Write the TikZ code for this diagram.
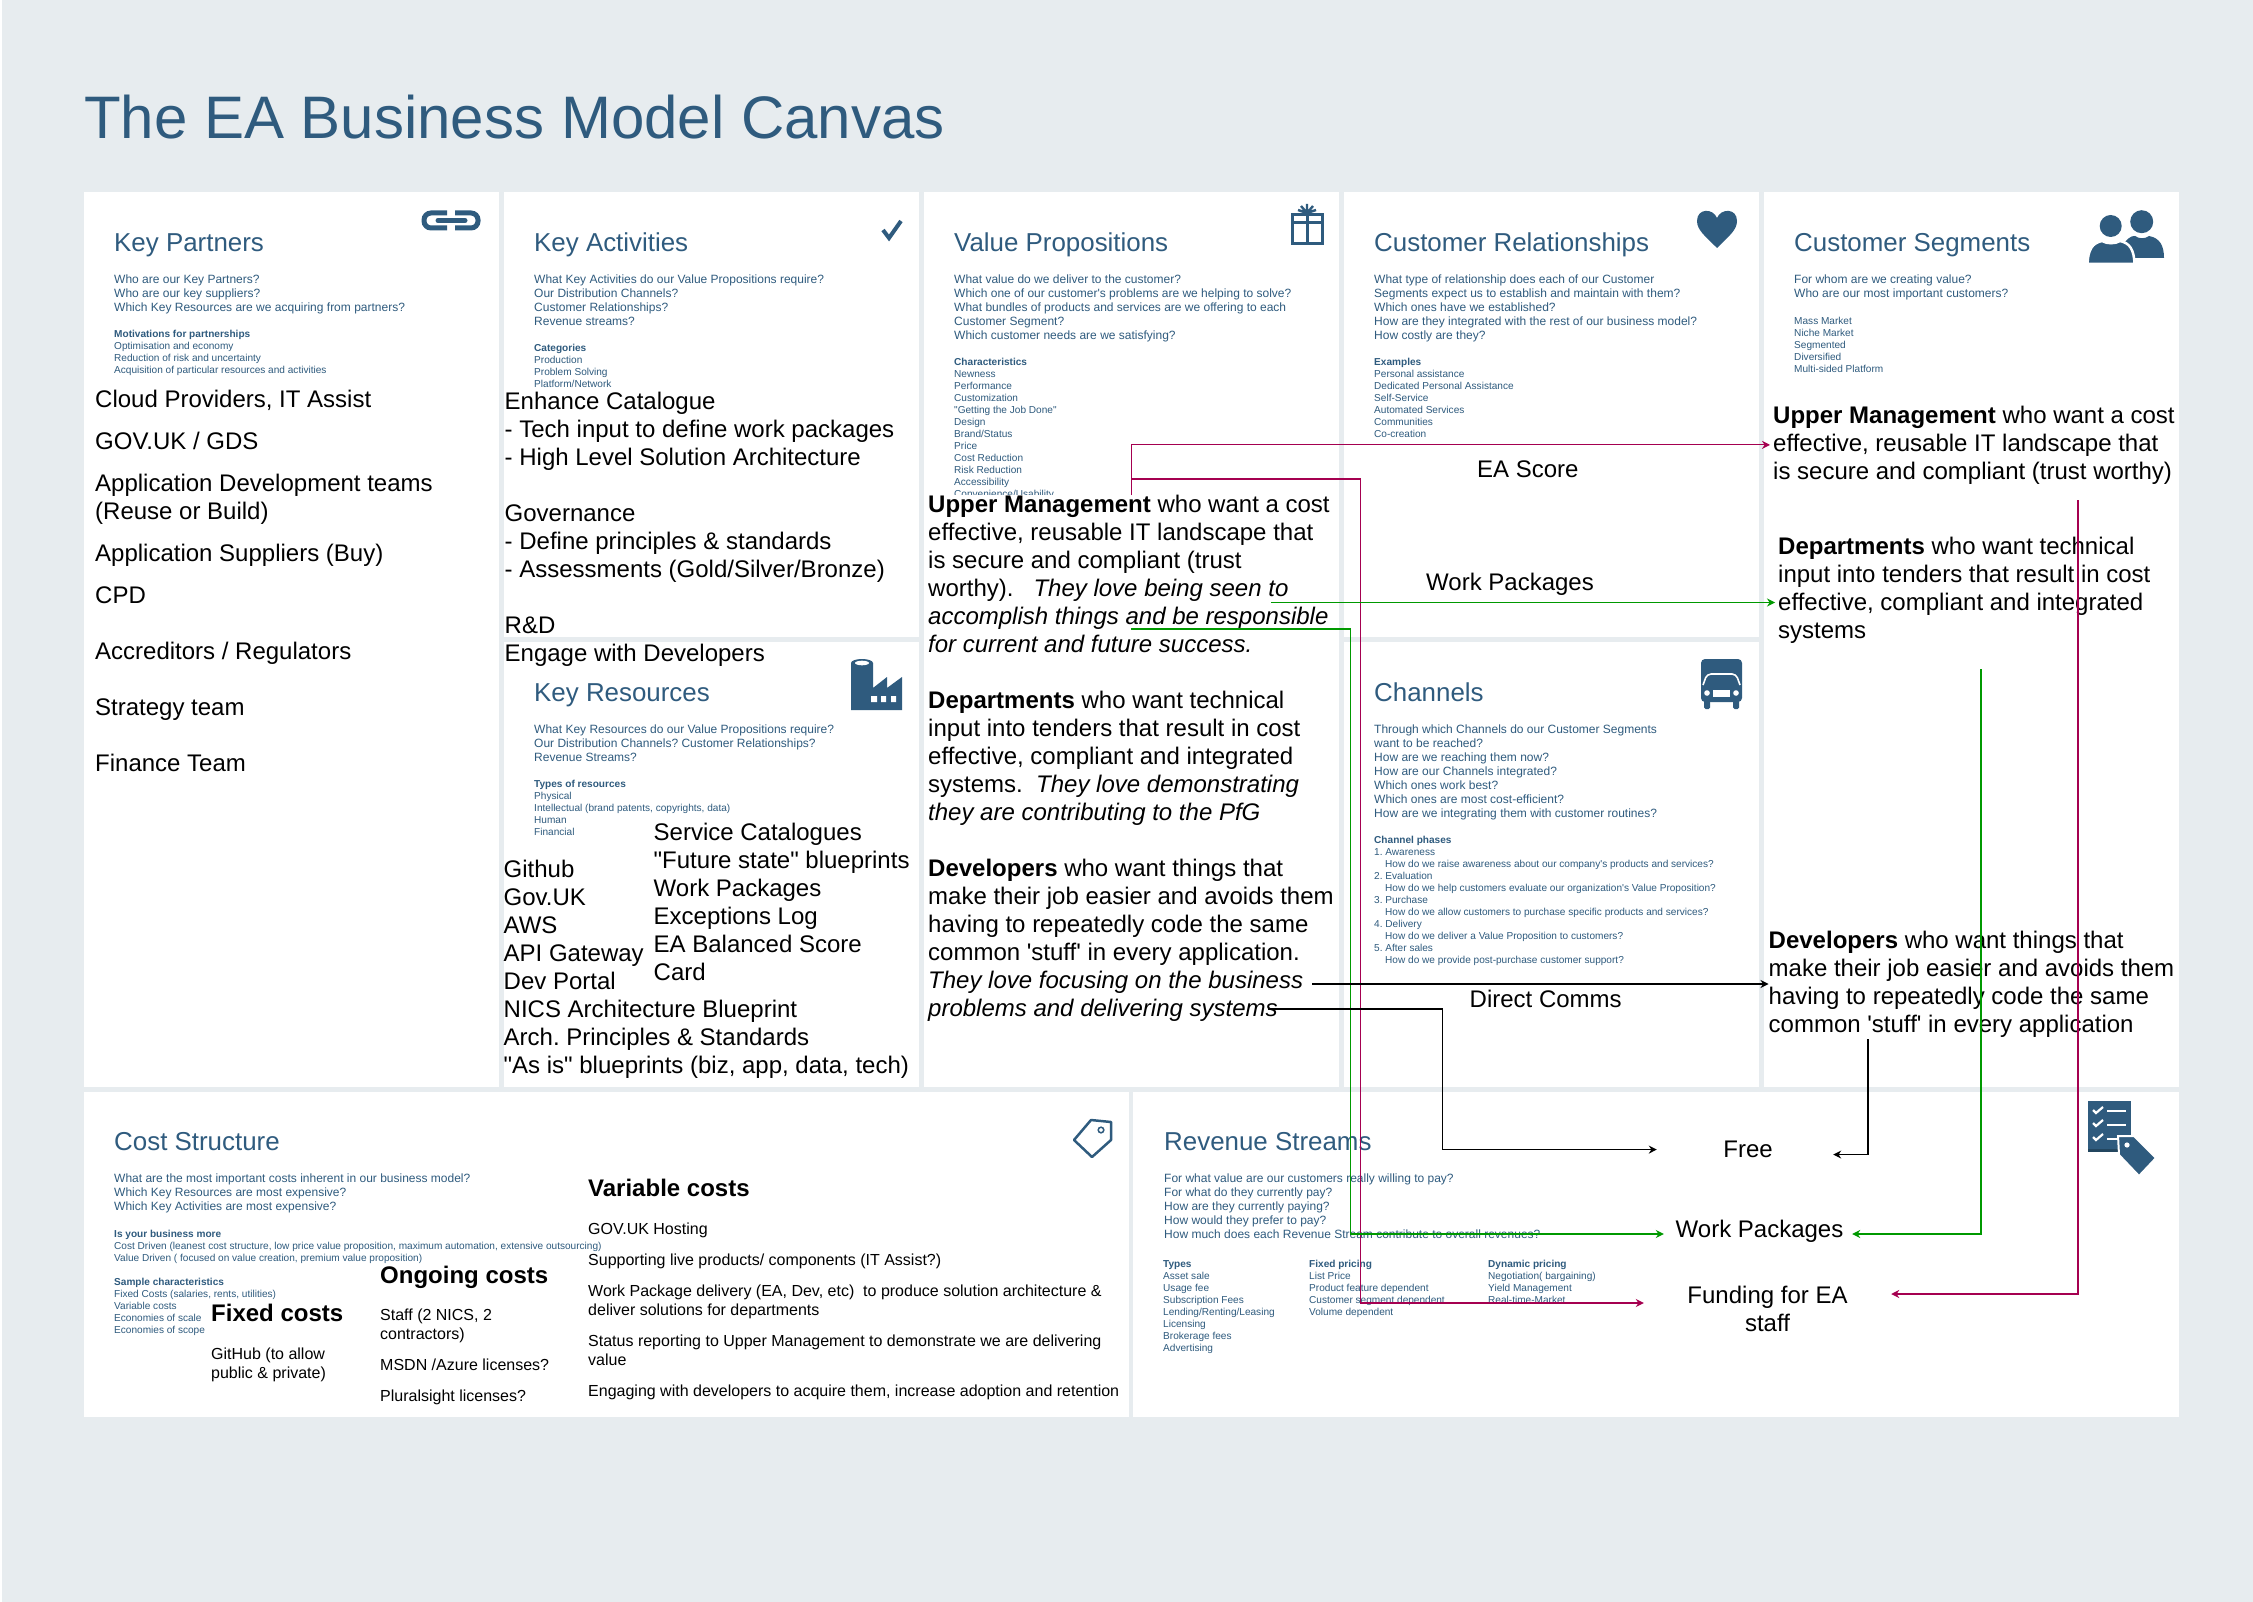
\documentclass[tikz,border=0pt]{standalone}
\usepackage{fontspec}
\usepackage{xcolor}
\usepackage{tikz}
\usetikzlibrary{arrows.meta,positioning}
\newfontfamily\canvasfont{Liberation Sans}
\AtBeginDocument{\canvasfont\frenchspacing}
\definecolor{canvasbg}{HTML}{E7ECEF}
\definecolor{slate}{HTML}{2F5B7E}
\definecolor{slatedark}{HTML}{23465F}
\definecolor{crimson}{HTML}{A50050}
\definecolor{leaf}{HTML}{009900}
\tikzset{
  panel/.style={fill=white,inner sep=0pt,anchor=north west},
  headtext/.style={text=slate,inner sep=0pt,anchor=base west,text height=19pt,text depth=6pt,
    font=\fontsize{25.9}{31}\selectfont},
  asktext/.style={text=slate,inner sep=0pt,anchor=north west,align=left,
    font=\fontsize{12}{14}\selectfont},
  listtext/.style={text=slate,inner sep=0pt,anchor=north west,align=left,
    font=\fontsize{10.08}{12}\selectfont},
  bodytext/.style={inner sep=0pt,anchor=north west,align=left,
    font=\fontsize{24}{28}\selectfont},
  labeltext/.style={inner sep=0pt,anchor=base,align=center,
    font=\fontsize{24}{28}\selectfont},
  costhead/.style={inner sep=0pt,anchor=base west,font=\bfseries\fontsize{24}{28}\selectfont},
  costtext/.style={inner sep=0pt,anchor=north west,align=left,
    font=\fontsize{16}{19}\selectfont},
  arrowred/.style={-{Stealth[length=8pt,width=8pt]},draw=crimson,line width=1.2pt},
  arrowgreen/.style={-{Stealth[length=8pt,width=8pt]},draw=leaf,line width=1.2pt},
  arrowblack/.style={-{Stealth[length=8pt,width=8pt]},draw=black,line width=1.2pt},
}

\begin{document}
\begin{tikzpicture}[x=1pt,y=-1pt]
  \useasboundingbox (0,0) rectangle (2253,1602);
  \fill[canvasbg] (2,0) rectangle (2253,1602);
  \node[inner sep=0pt,anchor=base west,text=slate,font=\fontsize{60}{70}\selectfont] (title) at (84,139) {The EA Business Model Canvas};

  % panels
  \node[panel,minimum width=415pt,minimum height=895pt] (kpPanel) at (84,192) {};
  \node[panel,minimum width=415pt,minimum height=445pt] (kaPanel) at (504,192) {};
  \node[panel,minimum width=415pt,minimum height=445pt] (krPanel) at (504,642) {};
  \node[panel,minimum width=415pt,minimum height=895pt] (vpPanel) at (924,192) {};
  \node[panel,minimum width=415pt,minimum height=445pt] (crPanel) at (1344,192) {};
  \node[panel,minimum width=415pt,minimum height=445pt] (chPanel) at (1344,642) {};
  \node[panel,minimum width=415pt,minimum height=895pt] (csPanel) at (1764,192) {};
  \node[panel,minimum width=1045pt,minimum height=325pt] (costPanel) at (84,1092) {};
  \node[panel,minimum width=1046pt,minimum height=325pt] (revPanel) at (1133,1092) {};

  % key partners
  \node[headtext] (kpHead) at (114,251.5) {Key Partners};
  \node[below=17pt of kpHead.south west,asktext] (kpAsk) {Who are our Key Partners?\\Who are our key suppliers?\\Which Key Resources are we acquiring from partners?};
  \node[below=72.5pt of kpHead.south west,listtext] (kpList) {\textbf{Motivations for partnerships}\\Optimisation and economy\\Reduction of risk and uncertainty\\Acquisition of particular resources and activities};
  \node[bodytext] (kpBody) at (95,390.3) {Cloud Providers, IT Assist\\[14pt]GOV.UK / GDS\\[14pt]Application Development teams\\(Reuse or Build)\\[14pt]Application Suppliers (Buy)\\[14pt]CPD\\[28pt]Accreditors / Regulators\\[28pt]Strategy team\\[28pt]Finance Team};

  % key activities
  \node[headtext] (kaHead) at (534,251.5) {Key Activities};
  \node[below=17pt of kaHead.south west,asktext] (kaAsk) {What Key Activities do our Value Propositions require?\\Our Distribution Channels?\\Customer Relationships?\\Revenue streams?};
  \node[below=86.5pt of kaHead.south west,listtext] (kaList) {\textbf{Categories}\\Production\\Problem Solving\\Platform/Network};

  % key resources
  \node[headtext] (krHead) at (534,701.5) {Key Resources};
  \node[below=17pt of krHead.south west,asktext] (krAsk) {What Key Resources do our Value Propositions require?\\Our Distribution Channels? Customer Relationships?\\Revenue Streams?};
  \node[below=72.5pt of krHead.south west,listtext] (krList) {\textbf{Types of resources}\\Physical\\Intellectual (brand patents, copyrights, data)\\Human\\Financial};
  \node[bodytext] (kaBody) at (504.5,392) {Enhance Catalogue\\- Tech input to define work packages\\- High Level Solution Architecture\\[28pt]Governance\\- Define principles \& standards\\- Assessments (Gold/Silver/Bronze)\\[28pt]R\&D\\Engage with Developers};
  \node[bodytext] (krLeft) at (503.5,860) {Github\\Gov.UK\\AWS\\API Gateway\\Dev Portal\\NICS Architecture Blueprint\\Arch. Principles \& Standards\\"As is" blueprints (biz, app, data, tech)};
  \node[bodytext] (krRight) at (653.5,822.8) {Service Catalogues\\"Future state" blueprints\\Work Packages\\Exceptions Log\\EA Balanced Score\\Card};

  % value propositions
  \node[headtext] (vpHead) at (954,251.5) {Value Propositions};
  \node[below=17pt of vpHead.south west,asktext] (vpAsk) {What value do we deliver to the customer?\\Which one of our customer's problems are we helping to solve?\\What bundles of products and services are we offering to each\\Customer Segment?\\Which customer needs are we satisfying?};
  \node[below=100.5pt of vpHead.south west,listtext] (vpList) {\textbf{Characteristics}\\Newness\\Performance\\Customization\\"Getting the Job Done"\\Design\\Brand/Status\\Price\\Cost Reduction\\Risk Reduction\\Accessibility\\Convenience/Usability};
  \node[bodytext,fill=white,text width=407pt] (vpUpper) at (928,495) {\spaceskip=0pt\relax\textbf{Upper Management} who want a cost\\effective, reusable IT landscape that\\is secure and compliant (trust\\worthy).\ \ \ \textit{They love being seen to}\\\textit{accomplish things and be responsible}\\\textit{for current and future success.}};
  \node[bodytext] (vpDept) at (928,690.5) {\textbf{Departments} who want technical\\input into tenders that result in cost\\effective, compliant and integrated\\systems.\ \ \textit{They love demonstrating}\\\textit{they are contributing to the PfG}};
  \node[bodytext] (vpDev) at (928,859) {\textbf{Developers} who want things that\\make their job easier and avoids them\\having to repeatedly code the same\\common 'stuff' in every application.\\\textit{They love focusing on the business}\\\textit{problems and delivering systems}};

  % customer relationships
  \node[headtext] (crHead) at (1374,251.5) {Customer Relationships};
  \node[below=17pt of crHead.south west,asktext] (crAsk) {What type of relationship does each of our Customer\\Segments expect us to establish and maintain with them?\\Which ones have we established?\\How are they integrated with the rest of our business model?\\How costly are they?};
  \node[below=100.5pt of crHead.south west,listtext] (crList) {\textbf{Examples}\\Personal assistance\\Dedicated Personal Assistance\\Self-Service\\Automated Services\\Communities\\Co-creation};
  \node[labeltext,anchor=base west] (crScore) at (1477,477.5) {EA Score};
  \node[labeltext,anchor=base west] (crWork) at (1426,590.5) {Work Packages};

  % channels
  \node[headtext] (chHead) at (1374,701.5) {Channels};
  \node[below=17pt of chHead.south west,asktext] (chAsk) {Through which Channels do our Customer Segments\\want to be reached?\\How are we reaching them now?\\How are our Channels integrated?\\Which ones work best?\\Which ones are most cost-efficient?\\How are we integrating them with customer routines?};
  \node[below=128.5pt of chHead.south west,listtext] (chList) {\textbf{Channel phases}\\1. Awareness\\\hspace*{11pt}How do we raise awareness about our company's products and services?\\2. Evaluation\\\hspace*{11pt}How do we help customers evaluate our organization's Value Proposition?\\3. Purchase\\\hspace*{11pt}How do we allow customers to purchase specific products and services?\\4. Delivery\\\hspace*{11pt}How do we deliver a Value Proposition to customers?\\5. After sales\\\hspace*{11pt}How do we provide post-purchase customer support?};
  \node[labeltext,anchor=base west] (chComms) at (1469.5,1007) {Direct Comms};

  % customer segments
  \node[headtext] (csHead) at (1794,251.5) {Customer Segments};
  \node[below=17pt of csHead.south west,asktext] (csAsk) {For whom are we creating value?\\Who are our most important customers?};
  \node[below=59.5pt of csHead.south west,listtext] (csList) {Mass Market\\Niche Market\\Segmented\\Diversified\\Multi-sided Platform};
  \node[bodytext,inner xsep=3pt] (csUpper) at (1770,405.5) {\textbf{Upper Management} who want a cost\\effective, reusable IT landscape that\\is secure and compliant (trust worthy)};
  \node[bodytext,inner xsep=3pt] (csDept) at (1775,537) {\textbf{Departments} who want technical\\input into tenders that result in cost\\effective, compliant and integrated\\systems};
  \node[bodytext] (csDev) at (1768.5,931) {\textbf{Developers} who want things that\\make their job easier and avoids them\\having to repeatedly code the same\\common 'stuff' in every application};

  % cost structure
  \node[headtext] (costHead) at (114,1150.5) {Cost Structure};
  \node[below=17pt of costHead.south west,asktext] (costAsk) {What are the most important costs inherent in our business model?\\Which Key Resources are most expensive?\\Which Key Activities are most expensive?};
  \node[below=73.5pt of costHead.south west,listtext] (costList) {\textbf{Is your business more}\\Cost Driven (leanest cost structure, low price value proposition, maximum automation, extensive outsourcing)\\Value Driven ( focused on value creation, premium value proposition)\\[12pt]\textbf{Sample characteristics}\\Fixed Costs (salaries, rents, utilities)\\Variable costs\\Economies of scale\\Economies of scope};
  \node[costhead] (fixedHead) at (211,1321) {Fixed costs};
  \node[costtext] (fixedBody) at (211,1347.8) {GitHub (to allow\\public \& private)};
  \node[costhead] (ongoingHead) at (380,1283) {Ongoing costs};
  \node[costtext] (ongoingBody) at (380,1309) {Staff (2 NICS, 2\\contractors)\\[12pt]MSDN /Azure licenses?\\[12pt]Pluralsight licenses?};
  \node[costhead] (variableHead) at (588,1196.5) {Variable costs};
  \node[costtext] (variableBody) at (588,1222.8) {GOV.UK Hosting\\[12pt]Supporting live products/ components (IT Assist?)\\[12pt]Work Package delivery (EA, Dev, etc)\ \ to produce solution architecture \&\\deliver solutions for departments\\[12pt]Status reporting to Upper Management to demonstrate we are delivering\\value\\[12pt]Engaging with developers to acquire them, increase adoption and retention};

  % revenue streams
  \node[headtext] (revHead) at (1164,1150.5) {Revenue Streams};
  \node[below=17pt of revHead.south west,asktext] (revAsk) {For what value are our customers really willing to pay?\\For what do they currently pay?\\How are they currently paying?\\How would they prefer to pay?\\How much does each Revenue Stream contribute to overall revenues?};
  \node[listtext] (revTypes) at (1163,1260.3) {\textbf{Types}\\Asset sale\\Usage fee\\Subscription Fees\\Lending/Renting/Leasing\\Licensing\\Brokerage fees\\Advertising};
  \node[listtext] (revFixed) at (1309,1260.3) {\textbf{Fixed pricing}\\List Price\\Product feature dependent\\Customer segment dependent\\Volume dependent};
  \node[listtext] (revDynamic) at (1488,1260.3) {\textbf{Dynamic pricing}\\Negotiation( bargaining)\\Yield Management\\Real-time-Market};
  \node[labeltext,minimum width=176pt] (free) at (1748,1157.7) {Free};
  \node[labeltext,minimum width=188pt] (workRev) at (1759.5,1237.7) {Work Packages};
  \node[labeltext,anchor=center,minimum width=247pt] (funding) at (1767.5,1309) {Funding for EA\\staff};

  % icons
  \begin{scope}[draw=slate,fill=slate]
    \draw[line width=5pt,rounded corners=7pt] (447,213)--(424,213)--(424,228)--(447,228);
    \draw[line width=5pt,rounded corners=7pt] (455,213)--(478,213)--(478,228)--(455,228);
    \draw[line width=5pt,line cap=round] (438,220.5)--(465,220.5);
    \draw[line width=4pt] (883,230)--(889,238)--(901,221);
    \draw[line width=3pt] (1292.5,214.5) rectangle (1322,244);
    \draw[line width=3pt] (1292.5,223)--(1322,223) (1307,214.5)--(1307,244);
    \draw[line width=2.4pt] (1307,213)--(1307,204) (1307,213)--(1301,206) (1307,213)--(1313,206) (1307,213)--(1298,210) (1307,213)--(1316,210);
    \fill (1717,248) .. controls (1705,236) and (1697,230) .. (1697,221) .. controls (1697,208) and (1713,208) .. (1717,218) .. controls (1721,208) and (1737,208) .. (1737,221) .. controls (1737,230) and (1729,236) .. (1717,248);
    % people
    \fill (2141.7,221.7) circle (11.5);
    \fill (2125,242) .. controls (2130,236) and (2133,236) .. (2135,236) .. controls (2139,239) and (2145,239) .. (2149,236) .. controls (2160,238) and (2164,246) .. (2164,258) -- (2125,258) -- cycle;
    \draw[white,line width=2.5pt,fill=slate] (2087.5,264) .. controls (2088,250) and (2092,243) .. (2102,241) .. controls (2107,244) and (2115,244) .. (2120,241) .. controls (2130,243) and (2134,250) .. (2134.5,264) -- cycle;
    \fill (2110.7,226) circle (11);
    % factory
    \fill (851,663) -- (873,663) -- (873,688) -- (887,677) -- (887,688) -- (902,677) -- (902,710) -- (851,710) -- cycle;
    \fill (862,663) ellipse (11 and 4);
    \fill[white] (862,663) ellipse (7 and 2.3);
    \fill[white] (871,696) rectangle (877,702) (881,696) rectangle (886,702) (891,696) rectangle (896,702);
    % truck
    \fill[rounded corners=4pt] (1701,659) rectangle (1742,702);
    \fill[rounded corners=1.5pt] (1704,698) rectangle (1710,709) (1733,698) rectangle (1739,709);
    \draw[white,line width=1.6pt,rounded corners=4pt] (1703,685)--(1707,674)--(1736,674)--(1740,685);
    \fill[white] (1707,693) circle (2.8) (1736,693) circle (2.8);
    \fill[white] (1713,690) rectangle (1730,697);
    % price tag
    \draw[line width=2.5pt,line join=round] (1091,1120)--(1111,1122)--(1111,1140)--(1092,1157)--(1074,1140)--cycle;
    \draw[line width=1.5pt,fill=white] (1101,1130) circle (2.8);
    % checklist
    \fill (2088,1101) rectangle (2131,1152);
    \fill[slatedark] (2088,1149) rectangle (2131,1152);
    \draw[white,line width=2.2pt] (2093,1110)--(2096,1113)--(2103,1107) (2093,1123)--(2096,1126)--(2103,1120) (2093,1137)--(2096,1140)--(2103,1134);
    \draw[white,line width=2.4pt] (2107,1111)--(2126,1111) (2107,1125)--(2126,1125) (2107,1139)--(2126,1139);
    \draw[white,line width=2pt,fill=slate] (2118,1136)--(2134,1136)--(2156,1158)--(2139,1176)--(2119,1155)--cycle;
    \fill[white] (2127,1145) circle (2.6);
  \end{scope}

  % free ends of the connectors
  \coordinate (redTurn) at (1360.5,479);
  \coordinate (wpOut) at (1271,602.5);
  \coordinate (greenOut) at (1131,629);
  \coordinate (greenTurn) at (1350.5,629);
  \coordinate (commsOut) at (1312,984);
  \coordinate (freeOut) at (1268,1009);
  \coordinate (freeTurn) at (1442.6,1009);
  \coordinate (devDown) at (1868,1039);
  \coordinate (deptDown) at (1981,669);
  \coordinate (upperDown) at (2078,500);

  % connectors
  \draw[arrowred] (vpUpper.north) |- (csUpper.west);
  \draw[arrowred] (vpUpper.north) |- (redTurn) |- ([yshift=6pt]funding.west);
  \draw[arrowred] (upperDown) |- ([yshift=15pt]funding.east);
  \draw[arrowgreen] (wpOut) -- (wpOut -| csDept.west);
  \draw[arrowgreen] (greenOut) -- (greenTurn) |- ([xshift=-1.5pt,yshift=-2.5pt]workRev.west);
  \draw[arrowgreen] (deptDown) |- ([xshift=-1.5pt,yshift=-2.5pt]workRev.east);
  \draw[arrowblack] (commsOut) -- (commsOut -| csDev.west);
  \draw[arrowblack] (freeOut) -- (freeTurn) |- ([xshift=-3pt]free.west);
  \draw[arrowblack] (devDown) |- ([xshift=-3pt,yshift=-5pt]free.east);
\end{tikzpicture}
\end{document}
